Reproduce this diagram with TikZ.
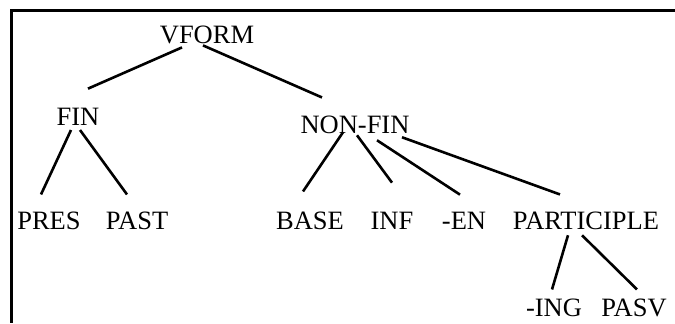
\documentclass[tikz,border=0pt]{standalone}
\usepackage{fontspec}
\setmainfont{Liberation Serif}
\usepackage{tikz}
\usetikzlibrary{calc}

\begin{document}
\begin{tikzpicture}[x=1bp,y=-1bp,
        every node/.style={inner sep=0pt,outer sep=0pt,anchor=base,font=\fontsize{26.5bp}{31bp}\selectfont},
        branch/.style={draw=black,line width=2.6bp},
        frame/.style={draw=black,line width=3bp}]
    \useasboundingbox (0,0) rectangle (675,323);
    % frame (cut off on the right and at the bottom)
    \draw[frame] (675,10) -- (11,10) -- (11,323);
    % categories
    \node (vform) at (207,43) {VFORM};
    \node (fin) at (78,125) {FIN};
    \node (nonfin) at (355,133) {NON-FIN};
    \node (pres) at (49,229) {PRES};
    \node (past) at (137,229) {PAST};
    \node (base) at (310,229) {BASE};
    \node (inf) at (392,229) {INF};
    \node (en) at (464,229) {-EN};
    \node (participle) at (586,229) {PARTICIPLE};
    \node (ing) at (554,316) {-ING};
    \node (pasv) at (634,316) {PASV};
    % branches
    \draw[branch] ([shift={(-25,4)}]vform.south) -- ([shift={(10,-19)}]fin.north);
    \draw[branch] ([shift={(-4,2)}]vform.south) -- ([shift={(-33,-18)}]nonfin.north);
    \draw[branch] ([shift={(-7,5)}]fin.south) -- ([shift={(-8,-17)}]pres.north);
    \draw[branch] ([shift={(2,5)}]fin.south) -- ([shift={(-10,-17)}]past.north);
    \draw[branch] ([shift={(-12,-1)}]nonfin.south) -- ([shift={(-7,-20)}]base.north);
    \draw[branch] ([shift={(2,2)}]nonfin.south) -- ([shift={(0,-29)}]inf.north);
    \draw[branch] ([shift={(22,7)}]nonfin.south) -- ([shift={(-4,-17)}]en.north);
    \draw[branch] ([shift={(47,4)}]nonfin.south) -- ([shift={(-26,-17)}]participle.north);
    \draw[branch] ([shift={(-18,6)}]participle.south) -- ([shift={(-2,-9)}]ing.north);
    \draw[branch] ([shift={(-4,6)}]participle.south) -- ([shift={(3,-9)}]pasv.north);
\end{tikzpicture}
\end{document}
